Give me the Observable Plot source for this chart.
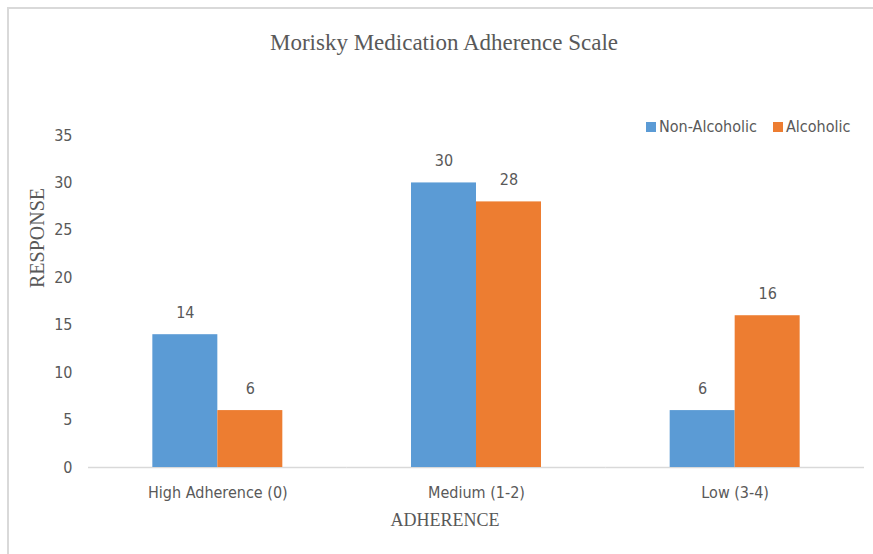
<!DOCTYPE html>
<html>
<head>
<meta charset="utf-8">
<script src="https://cdn.jsdelivr.net/npm/d3@7"></script>
<script src="https://cdn.jsdelivr.net/npm/@observablehq/plot@0.6"></script>
<style>
  html, body { margin: 0; padding: 0; background: #fff; }
  #wrap { position: relative; width: 873px; height: 554px; overflow: hidden; background: #fff; }
  .sans { font-family: 'Liberation Sans Narrow', 'Arial Narrow', 'DejaVu Sans Condensed', sans-serif; }
  .serif { font-family: 'Liberation Serif', 'Times New Roman', serif; }
  .abs { position: absolute; white-space: nowrap; line-height: 1; color: #595959; }
  #borderTop { position: absolute; left: 7px; top: 7px; right: 0; height: 2px; background: #d9d9d9; }
  #borderLeft { position: absolute; left: 7px; top: 7px; bottom: 0; width: 2px; background: #d9d9d9; }
  .sw { position: absolute; width: 10px; height: 10px; }
</style>
</head>
<body>
<div id="wrap">
  <div id="borderTop"></div>
  <div id="borderLeft"></div>
  <div id="chart" style="position:absolute;left:0;top:0;"></div>
  <div class="abs serif" id="title" style="left:444px;top:31px;font-size:23px;transform:translateX(-50%);"></div>
  <div class="abs serif" id="ylab" style="left:37px;top:238px;font-size:20px;transform:translate(-50%,-50%) rotate(-90deg);"></div>
  <div class="abs serif" id="xlab" style="left:445px;top:511px;font-size:18px;transform:translateX(-50%);"></div>
  <div id="legend"></div>
</div>
<script>
const titleText = "Morisky Medication Adherence Scale";
const yLabel = "RESPONSE";
const xLabel = "ADHERENCE";
const categories = ["High Adherence (0)", "Medium (1-2)", "Low (3-4)"];
const series = ["Non-Alcoholic", "Alcoholic"];
const nonAlcoholic = [14, 30, 6];
const alcoholic = [6, 28, 16];
const yTicks = [0, 5, 10, 15, 20, 25, 30, 35];
const colors = ["#5B9BD5", "#ED7D31"];

const data = categories.flatMap((c, i) => [
  {cat: c, series: series[0], value: nonAlcoholic[i]},
  {cat: c, series: series[1], value: alcoholic[i]}
]);

const sans = "'Liberation Sans Narrow', 'Arial Narrow', 'DejaVu Sans Condensed', sans-serif";

const chart = Plot.plot({
  width: 873,
  height: 554,
  marginTop: 135,
  marginBottom: 87,
  marginLeft: 88,
  marginRight: 9,
  style: {fontFamily: sans, fontSize: "16px", color: "#595959", background: "transparent", overflow: "visible"},
  fx: {domain: categories, padding: 0, round: false, label: null, axis: "bottom", tickSize: 0, tickPadding: 19},
  x: {domain: series, paddingInner: 0, paddingOuter: 0.99, round: false, axis: null},
  y: {domain: [0, 35], ticks: yTicks, tickSize: 0, tickPadding: 16, label: null},
  color: {domain: series, range: colors},
  marks: [
    Plot.ruleY([0], {stroke: "#d9d9d9", strokeWidth: 1.5}),
    Plot.barY(data, {fx: "cat", x: "series", y: "value", fill: "series"}),
    Plot.text(data, {fx: "cat", x: "series", y: "value", text: d => String(d.value), dy: -22, fill: "#595959"})
  ]
});
document.getElementById("chart").appendChild(chart);

document.getElementById("title").textContent = titleText;
document.getElementById("ylab").textContent = yLabel;
document.getElementById("xlab").textContent = xLabel;

const legend = document.getElementById("legend");
const legendPos = [{sq: 646, tx: 659}, {sq: 773, tx: 786}];
series.forEach((s, i) => {
  const sw = document.createElement("div");
  sw.className = "sw";
  sw.style.left = legendPos[i].sq + "px";
  sw.style.top = "122px";
  sw.style.background = colors[i];
  legend.appendChild(sw);
  const t = document.createElement("div");
  t.className = "abs sans";
  t.style.left = legendPos[i].tx + "px";
  t.style.top = "119px";
  t.style.fontSize = "16px";
  t.textContent = s;
  legend.appendChild(t);
});
</script>
</body>
</html>
